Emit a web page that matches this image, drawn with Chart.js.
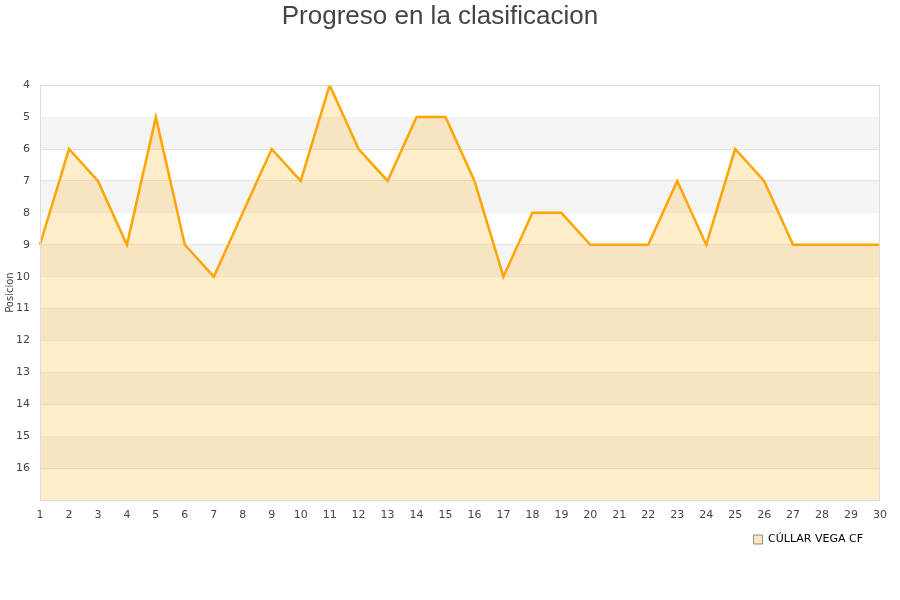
<!DOCTYPE html>
<html>
<head>
<meta charset="utf-8">
<script src="https://cdn.jsdelivr.net/npm/chart.js@4"></script>
<style>
    html, body { margin: 0; padding: 0; background: #ffffff; }
    #wrap { width: 900px; height: 600px; }
</style>
</head>
<body>
<div id="wrap"><canvas id="chart" width="900" height="600"></canvas></div>
<script>
const jornadas = ['1', '2', '3', '4', '5', '6', '7', '8', '9', '10', '11', '12', '13', '14', '15',
    '16', '17', '18', '19', '20', '21', '22', '23', '24', '25', '26', '27', '28', '29', '30'];
const posiciones = [9, 6, 7, 9, 5, 9, 10, 8, 6, 7, 4, 6, 7, 5, 5,
    7, 10, 8, 8, 9, 9, 9, 7, 9, 6, 7, 9, 9, 9, 9];
const equipo = 'CÚLLAR VEGA CF';
const posMin = 4;
const posMax = 17;
// bandas grises entre posiciones impares y la siguiente
const bandas = [5, 7, 9, 11, 13, 15];

const bandPlugin = {
    id: 'bands',
    beforeDatasetsDraw(chart) {
        const { ctx, chartArea, scales } = chart;
        ctx.save();
        ctx.fillStyle = '#f4f4f4';
        bandas.forEach((b) => {
            const y1 = scales.y.getPixelForValue(b);
            const y2 = scales.y.getPixelForValue(b + 1);
            ctx.fillRect(chartArea.left, y1, chartArea.right - chartArea.left, y2 - y1);
        });
        ctx.restore();
    },
    afterDraw(chart) {
        const { ctx, chartArea } = chart;
        ctx.save();
        ctx.strokeStyle = '#dddddd';
        ctx.lineWidth = 1;
        ctx.strokeRect(chartArea.left + 0.5, chartArea.top + 0.5,
            chartArea.right - chartArea.left - 1, chartArea.bottom - chartArea.top);
        ctx.restore();
    }
};

new Chart(document.getElementById('chart').getContext('2d'), {
    type: 'line',
    data: {
        labels: jornadas,
        datasets: [
            {
                label: equipo,
                data: posiciones,
                fill: { value: posMax },
                tension: 0,
                borderWidth: 2.5,
                borderColor: '#ffa500',
                backgroundColor: 'rgba(255, 165, 0, 0.2)',
                pointRadius: 0,
                pointHoverRadius: 3
            }
        ]
    },
    plugins: [bandPlugin],
    options: {
        responsive: false,
        animation: false,
        layout: {
            padding: { left: 0, right: 20, top: 0, bottom: 45 }
        },
        plugins: {
            title: {
                display: true,
                text: 'Progreso en la clasificacion',
                color: '#444444',
                font: { family: 'Liberation Sans, Arial, sans-serif', size: 26, weight: 'normal' },
                padding: { top: 1, bottom: 53 }
            },
            legend: {
                position: 'bottom',
                align: 'end',
                labels: {
                    color: '#222222',
                    boxWidth: 9,
                    boxHeight: 9,
                    padding: 10,
                    font: { family: 'DejaVu Sans, sans-serif', size: 11 },
                    generateLabels: () => [{
                        text: equipo + '  ',
                        fillStyle: '#fbe6c0',
                        strokeStyle: '#8a8a8a',
                        lineWidth: 1,
                        hidden: false,
                        datasetIndex: 0
                    }]
                }
            },
            tooltip: { enabled: true }
        },
        scales: {
            x: {
                offset: false,
                grid: { display: false },
                border: { display: false },
                ticks: {
                    color: '#444444',
                    maxRotation: 0,
                    autoSkip: false,
                    padding: 1,
                    font: { family: 'DejaVu Sans, sans-serif', size: 11 }
                },
                afterFit: (scale) => { scale.height = 24; }
            },
            y: {
                reverse: true,
                min: posMin,
                max: posMax,
                grid: { color: '#e2e2e2', drawTicks: false },
                border: { display: false },
                title: {
                    display: true,
                    text: 'Posicion',
                    color: '#444444',
                    padding: { top: 4, bottom: 0 },
                    font: { family: 'DejaVu Sans, sans-serif', size: 10 }
                },
                ticks: {
                    stepSize: 1,
                    color: '#444444',
                    padding: 10,
                    font: { family: 'DejaVu Sans, sans-serif', size: 11 },
                    callback: (value) => value === posMax ? '' : value
                },
                afterFit: (scale) => { scale.width = 40; }
            }
        }
    }
});
</script>
</body>
</html>
